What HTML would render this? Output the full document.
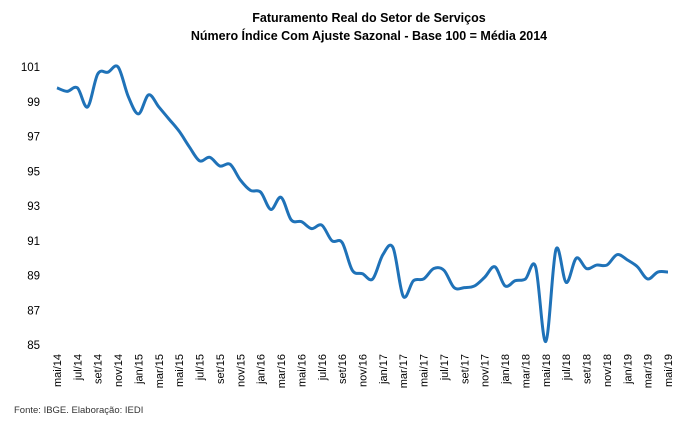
<!DOCTYPE html>
<html><head><meta charset="utf-8"><style>
body{margin:0;background:#fff;}
svg{display:block;font-family:"Liberation Sans",sans-serif;}
</style></head><body>
<svg id="chart" width="679" height="425">
<text x="369" y="22" text-anchor="middle" font-size="12.5" font-weight="bold" fill="#000">Faturamento Real do Setor de Serviços</text>
<text x="369" y="40" text-anchor="middle" font-size="12.5" font-weight="bold" fill="#000">Número Índice Com Ajuste Sazonal - Base 100 = Média 2014</text>
<text x="14" y="413" font-size="9.5" fill="#333">Fonte: IBGE. Elaboração: IEDI</text>
<g id="yaxis"></g>
<g id="xaxis"></g>
<path id="line" fill="none" stroke="#1f72b8" stroke-width="3" stroke-linejoin="round"></path>
</svg>
<script>
const monthNames = ["jan","fev","mar","abr","mai","jun","jul","ago","set","out","nov","dez"];
const values = [99.8,99.6,99.8,98.7,100.6,100.7,101.0,99.3,
98.3,99.4,98.7,98.0,97.3,96.4,95.6,95.8,95.3,95.4,94.5,93.9,
93.8,92.8,93.5,92.2,92.1,91.7,91.9,91.0,90.9,89.3,89.1,88.8,
90.2,90.6,87.8,88.7,88.8,89.4,89.3,88.3,88.3,88.4,88.9,89.5,
88.4,88.7,88.8,89.5,85.2,90.5,88.6,90.0,89.4,89.6,89.6,90.2,
89.9,89.5,88.8,89.2,89.2];
const yTicks = [85,87,89,91,93,95,97,99,101];
const startMonth = 4, startYear = 14;
const ns = "http://www.w3.org/2000/svg";
const X = i => 57 + i * (668 - 57) / 60;
const Y = v => 345 - (v - 85) * (345 - 67) / 16;
const ya = document.getElementById('yaxis');
yTicks.forEach(t => {
  const tx = document.createElementNS(ns, 'text');
  
  
  tx.setAttribute('x', 40); tx.setAttribute('y', Y(t) + 4);
  tx.setAttribute('text-anchor', 'end'); tx.setAttribute('font-size', '11.5'); tx.setAttribute('fill', '#000');
  tx.textContent = t; ya.appendChild(tx);
});
const xa = document.getElementById('xaxis');
for (let i = 0; i < values.length; i += 2) {
  const m = (startMonth + i) % 12, y = startYear + Math.floor((startMonth + i) / 12);
  const tx = document.createElementNS(ns, 'text');
  
  
  const x = X(i) + 4;
  tx.setAttribute('transform', `translate(${x},354) rotate(-90)`);
  tx.setAttribute('text-anchor', 'end'); tx.setAttribute('font-size', '11'); tx.setAttribute('fill', '#000');
  tx.textContent = monthNames[m] + '/' + y; xa.appendChild(tx);
}
const pts = values.map((v, i) => [X(i), Y(v)]);
let d = `M${pts[0][0]},${pts[0][1]}`;
for (let i = 0; i < pts.length - 1; i++) {
  const p0 = pts[i - 1] || pts[i], p1 = pts[i], p2 = pts[i + 1], p3 = pts[i + 2] || p2;
  const c1 = [p1[0] + (p2[0] - p0[0]) / 6, p1[1] + (p2[1] - p0[1]) / 6];
  const c2 = [p2[0] - (p3[0] - p1[0]) / 6, p2[1] - (p3[1] - p1[1]) / 6];
  d += ` C${c1[0]},${c1[1]} ${c2[0]},${c2[1]} ${p2[0]},${p2[1]}`;
}
document.getElementById('line').setAttribute('d', d);
</script>
</body></html>
